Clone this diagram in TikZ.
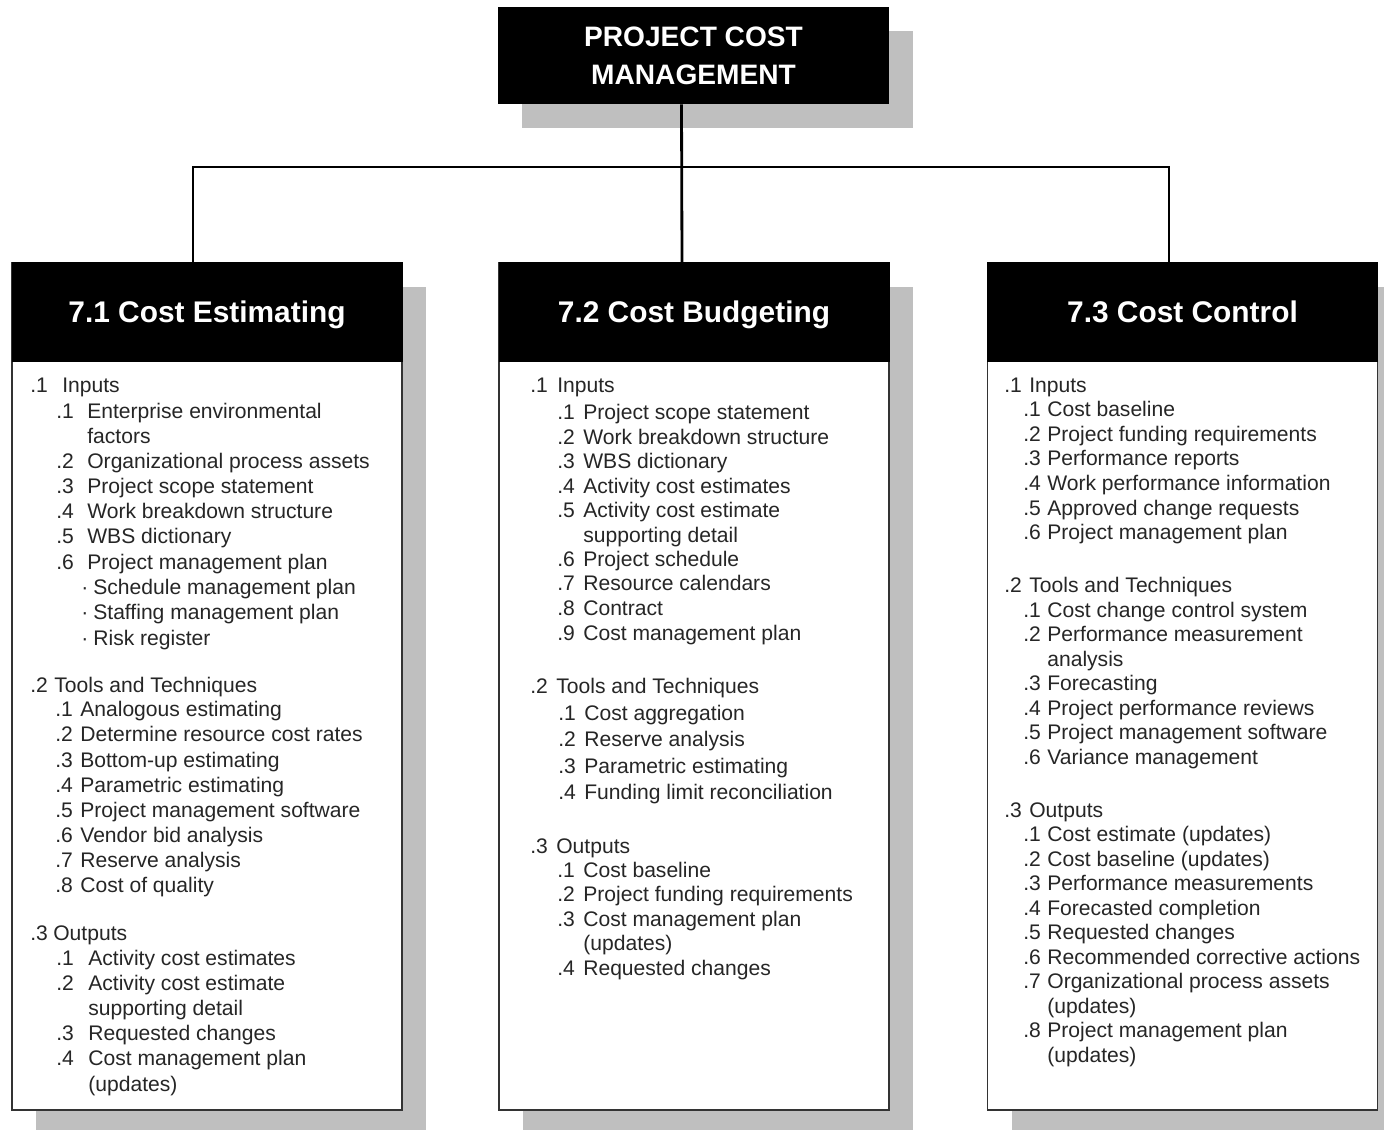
\documentclass[tikz,border=0pt]{standalone}
\usepackage{fontspec}
\setmainfont{Liberation Sans}
\usetikzlibrary{positioning}
\usetikzlibrary{shadows}
\tikzset{
    boxshadow/.style={
        drop shadow={shadow xshift=0.48cm, shadow yshift=-0.48cm,
            fill=black!25, opacity=1}},
    top/.style={
        fill=black, text=white, align=center,
        minimum width=7.82cm, minimum height=1.94cm,
        font=\fontsize{16}{21.5}\selectfont\bfseries,
        boxshadow},
    head/.style={
        fill=black, draw=black, text=white, inner sep=0pt,
        minimum width=7.8cm, minimum height=1.98cm,
        text height=12.2pt, text depth=0pt,
        font=\fontsize{17}{20}\selectfont\bfseries},
    body/.style={
        fill=white, draw=black!80, line width=1pt,
        minimum width=7.8cm, minimum height=16.94cm,
        boxshadow},
    item/.style={
        anchor=base west, inner sep=0pt, text=black!85,
        font=\fontsize{12}{14}\selectfont},
    conn/.style={
        draw, line width=1.6pt}}

\begin{document}
\begin{tikzpicture}[x=0.02cm, y=-0.02cm]
    \useasboundingbox (0,0) rectangle (1384,1130);

    % boxes
    \node[top] (pcm) at (693.5,55.5) {PROJECT COST\\MANAGEMENT};

    \node[body] (ceb) at (207,686.5) {};
    \node[head,below=0pt of ceb.north] (ce) {7.1 Cost Estimating};
    \node[body] (cbb) at (694,686.5) {};
    \node[head,below=0pt of cbb.north] (cb) {7.2 Cost Budgeting};
    \node[body] (ccb) at (1182.5,686.5) {};
    \node[head,below=0pt of ccb.north] (cc) {7.3 Cost Control};

    % connectors
    \coordinate (rail) at (682,167);
    \draw[conn] ([xshift=-0.24cm]pcm.south) -- ([xshift=-0.24cm]cb.north);
    \draw[conn] ([xshift=-0.28cm]ce.north) |- (rail) -| ([xshift=-0.27cm]cc.north);

    % 7.1 Cost Estimating
    \node[item] (e-in) at (30,392) {\makebox[0.64cm][l]{.1}Inputs};
    \foreach \yy/\nr/\txt [count=\i] in {418/.1/Enterprise environmental,
            443/{}/factors, 468/.2/Organizational process assets,
            493/.3/Project scope statement, 518/.4/Work breakdown structure,
            543/.5/WBS dictionary, 569/.6/Project management plan}
        \node[item] (e-in\i) at (56,\yy) {\makebox[0.62cm][l]{\nr}\txt};
    \foreach \yy/\txt [count=\i] in {594/Schedule management plan,
            619/Staffing management plan, 645/Risk register}
        \node[item] (e-pl\i) at (81,\yy) {\makebox[0.24cm][l]{\textperiodcentered}\txt};
    \node[item] (e-tt) at (30,692) {\makebox[0.48cm][l]{.2}Tools and Techniques};
    \foreach \yy/\nr/\txt [count=\i] in {716/.1/Analogous estimating,
            741/.2/Determine resource cost rates, 767/.3/Bottom-up estimating,
            792/.4/Parametric estimating, 817/.5/Project management software,
            842/.6/Vendor bid analysis, 867/.7/Reserve analysis,
            892/.8/Cost of quality}
        \node[item] (e-tt\i) at (55,\yy) {\makebox[0.5cm][l]{\nr}\txt};
    \node[item] (e-out) at (30,940) {\makebox[0.46cm][l]{.3}Outputs};
    \foreach \yy/\nr/\txt [count=\i] in {965/.1/Activity cost estimates,
            990/.2/Activity cost estimate, 1015/{}/supporting detail,
            1040/.3/Requested changes, 1065/.4/Cost management plan,
            1091/{}/(updates)}
        \node[item] (e-out\i) at (56,\yy) {\makebox[0.64cm][l]{\nr}\txt};

    % 7.2 Cost Budgeting
    \node[item] (b-in) at (530,392) {\makebox[0.54cm][l]{.1}Inputs};
    \foreach \yy/\nr/\txt [count=\i] in {419/.1/Project scope statement,
            444/.2/Work breakdown structure, 468/.3/WBS dictionary,
            493/.4/Activity cost estimates, 517/.5/Activity cost estimate,
            542/{}/supporting detail, 566/.6/Project schedule,
            590/.7/Resource calendars, 615/.8/Contract,
            640/.9/Cost management plan}
        \node[item] (b-in\i) at (557,\yy) {\makebox[0.52cm][l]{\nr}\txt};
    \node[item] (b-tt) at (530,693) {\makebox[0.52cm][l]{.2}Tools and Techniques};
    \foreach \yy/\nr/\txt [count=\i] in {720/.1/Cost aggregation,
            746/.2/Reserve analysis, 773/.3/Parametric estimating,
            799/.4/Funding limit reconciliation}
        \node[item] (b-tt\i) at (558,\yy) {\makebox[0.52cm][l]{\nr}\txt};
    \node[item] (b-out) at (530,853) {\makebox[0.52cm][l]{.3}Outputs};
    \foreach \yy/\nr/\txt [count=\i] in {877/.1/Cost baseline,
            901/.2/Project funding requirements, 926/.3/Cost management plan,
            950/{}/(updates), 975/.4/Requested changes}
        \node[item] (b-out\i) at (557,\yy) {\makebox[0.52cm][l]{\nr}\txt};

    % 7.3 Cost Control
    \node[item] (c-in) at (1004,392) {\makebox[0.5cm][l]{.1}Inputs};
    \foreach \yy/\nr/\txt [count=\i] in {416/.1/Cost baseline,
            441/.2/Project funding requirements, 465/.3/Performance reports,
            490/.4/Work performance information,
            515/.5/Approved change requests, 539/.6/Project management plan}
        \node[item] (c-in\i) at (1023,\yy) {\makebox[0.48cm][l]{\nr}\txt};
    \node[item] (c-tt) at (1004,592) {\makebox[0.5cm][l]{.2}Tools and Techniques};
    \foreach \yy/\nr/\txt [count=\i] in {617/.1/Cost change control system,
            641/.2/Performance measurement, 666/{}/analysis,
            690/.3/Forecasting, 715/.4/Project performance reviews,
            739/.5/Project management software, 764/.6/Variance management}
        \node[item] (c-tt\i) at (1023,\yy) {\makebox[0.48cm][l]{\nr}\txt};
    \node[item] (c-out) at (1004,817) {\makebox[0.5cm][l]{.3}Outputs};
    \foreach \yy/\nr/\txt [count=\i] in {841/.1/Cost estimate (updates),
            866/.2/Cost baseline (updates), 890/.3/Performance measurements,
            915/.4/Forecasted completion, 939/.5/Requested changes,
            964/.6/Recommended corrective actions,
            988/.7/Organizational process assets, 1013/{}/(updates),
            1037/.8/Project management plan, 1062/{}/(updates)}
        \node[item] (c-out\i) at (1023,\yy) {\makebox[0.48cm][l]{\nr}\txt};
\end{tikzpicture}
\end{document}
